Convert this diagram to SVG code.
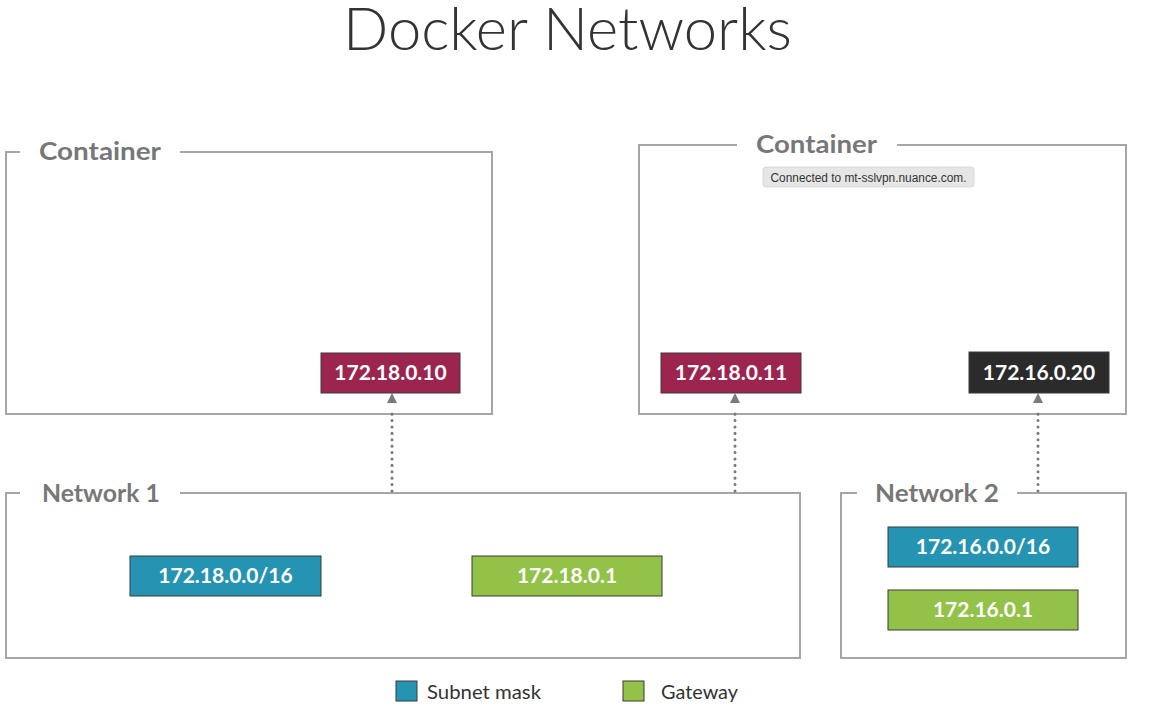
<svg xmlns="http://www.w3.org/2000/svg" width="1163" height="707" viewBox="0 0 1163 707">
<style>
.frame{fill:none;stroke:#a6a6a6;stroke-width:2}
.flabel{font-family:Lato,"Open Sans",sans-serif;font-weight:700;font-size:25px;fill:#777777}
.ip{font-family:Lato,"Open Sans",sans-serif;font-weight:700;font-size:21px;fill:#ffffff;text-anchor:middle}
.box{stroke:#3a3a3a;stroke-width:1}
.red{fill:#9c2550}
.dark{fill:#2b2b2b}
.blue{fill:#2594b2}
.green{fill:#93c248}
.conn{stroke:#7a7a7a;stroke-width:3;stroke-dasharray:0.1 6.3;stroke-linecap:round;fill:none}
.head{fill:#7a7a7a}
.legend{font-family:Lato,"Open Sans",sans-serif;font-size:19px;fill:#333333}
</style>
<rect width="1163" height="707" fill="#ffffff"/>
<text x="343" y="50" textLength="449" lengthAdjust="spacingAndGlyphs" style="font-family:Lato,'Open Sans',sans-serif;font-weight:300;font-size:60px;fill:#333333">Docker Networks</text>

<g id="container1">
<path class="frame" d="M20,152 H6 V414 H492 V152 H180"/>
<text class="flabel" x="39" y="160" textLength="122" lengthAdjust="spacingAndGlyphs">Container</text>
</g>
<g id="container2">
<path class="frame" d="M737,145 H639 V414 H1126 V145 H897"/>
<text class="flabel" x="756" y="153" textLength="121" lengthAdjust="spacingAndGlyphs">Container</text>
</g>
<g id="tooltip">
<rect x="763" y="167" width="211" height="20" rx="3" fill="#e6e6e6" stroke="#d0d0d0" stroke-width="0.8"/>
<text x="868.5" y="181.5" text-anchor="middle" textLength="196" lengthAdjust="spacingAndGlyphs" style="font-family:'Liberation Sans',Arial,sans-serif;font-size:12px;fill:#333333">Connected to mt-sslvpn.nuance.com.</text>
</g>
<g id="ip-172-18-0-10">
<rect class="box red" x="321" y="353" width="139" height="40"/>
<text class="ip" x="390.5" y="380">172.18.0.10</text>
</g>
<g id="ip-172-18-0-11">
<rect class="box red" x="661" y="353" width="140" height="40"/>
<text class="ip" x="731" y="380">172.18.0.11</text>
</g>
<g id="ip-172-16-0-20">
<rect class="box dark" x="969" y="352" width="140" height="41"/>
<text class="ip" x="1039" y="380">172.16.0.20</text>
</g>

<g id="network1">
<path class="frame" d="M20,493 H6 V658 H800 V493 H180"/>
<text class="flabel" x="42" y="502" textLength="118" lengthAdjust="spacingAndGlyphs">Network 1</text>
</g>
<g id="subnet1">
<rect class="box blue" x="130" y="556" width="191" height="40"/>
<text class="ip" x="225.5" y="583">172.18.0.0/16</text>
</g>
<g id="gateway1">
<rect class="box green" x="472" y="556" width="190" height="40"/>
<text class="ip" x="567" y="583">172.18.0.1</text>
</g>

<g id="network2">
<path class="frame" d="M857,493 H841 V658 H1126 V493 H1017"/>
<text class="flabel" x="875" y="502" textLength="124" lengthAdjust="spacingAndGlyphs">Network 2</text>
</g>
<g id="subnet2">
<rect class="box blue" x="888" y="527" width="190" height="40"/>
<text class="ip" x="983" y="554">172.16.0.0/16</text>
</g>
<g id="gateway2">
<rect class="box green" x="888" y="590" width="190" height="40"/>
<text class="ip" x="983" y="617">172.16.0.1</text>
</g>

<g id="connectors">
<line class="conn" x1="392" y1="491" x2="392" y2="408"/>
<path class="head" d="M387,403 L397,403 L392,393 Z"/>
<line class="conn" x1="735" y1="491" x2="735" y2="408"/>
<path class="head" d="M730,403 L740,403 L735,393 Z"/>
<line class="conn" x1="1038" y1="491" x2="1038" y2="408"/>
<path class="head" d="M1033,403 L1043,403 L1038,393 Z"/>
</g>

<g id="legend">
<rect x="396" y="681" width="21" height="20" fill="#2594b2" stroke="#3a3a3a" stroke-width="1"/>
<text class="legend" x="427" y="699" textLength="114" lengthAdjust="spacingAndGlyphs">Subnet mask</text>
<rect x="623" y="681" width="21" height="20" fill="#93c248" stroke="#3a3a3a" stroke-width="1"/>
<text class="legend" x="661" y="699" textLength="77" lengthAdjust="spacingAndGlyphs">Gateway</text>
</g>
</svg>
